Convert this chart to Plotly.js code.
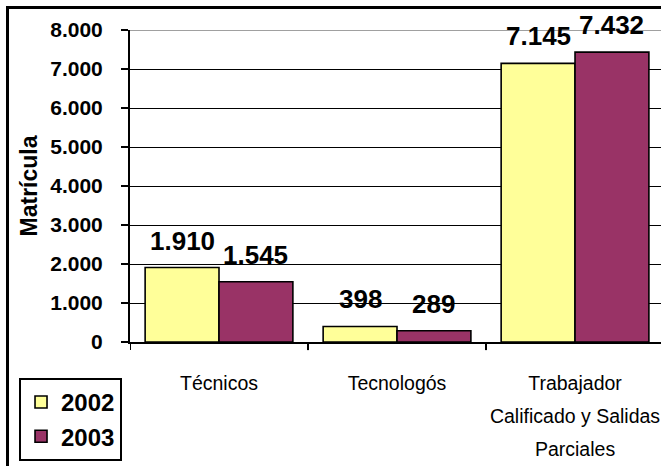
<!DOCTYPE html>
<html>
<head>
<meta charset="utf-8">
<script src="https://cdn.plot.ly/plotly-3.0.1.min.js"></script>
<style>
  html, body { margin: 0; padding: 0; background: #fff; overflow: hidden; }
  #chart { position: absolute; left: 0; top: 0; width: 661px; height: 466px; }
  #frame { position: absolute; left: 6px; top: 6px; width: 700px; height: 500px;
           border: 3px solid #000; pointer-events: none; }
</style>
</head>
<body>
<div id="chart"></div>
<div id="frame"></div>
<script>
// ---- data ----
const categories = ["Técnicos", "Tecnologós", "Trabajador<br>Calificado y Salidas<br>Parciales"];
const seriesNames = ["2002", "2003"];
const values2002 = [1910, 398, 7145];
const values2003 = [1545, 289, 7432];
const yTicks = [0, 1000, 2000, 3000, 4000, 5000, 6000, 7000, 8000];

// ---- styling ----
const colors = ["#FFFF99", "#993366"];
const bargap = 0.17;
const boldFont = "Liberation Sans, Arial, sans-serif";
const catFont = "Liberation Sans, Arial, sans-serif";

function fmt(v) {
  return String(v).replace(/\B(?=(\d{3})+(?!\d))/g, ".");
}

const xIdx = categories.map((c, i) => i);
const allSeries = [values2002, values2003];

// category labels: small glyphs, wide line spacing
const catText = categories.map(c =>
  c.split("<br>").map(line => '<span style="font-size:19.5px">' + line + '</span>').join("<br>")
);

const traces = allSeries.map((vals, s) => ({
  type: "bar",
  name: seriesNames[s],
  x: xIdx,
  y: vals,
  marker: { color: colors[s], line: { color: "#000", width: 1.6 } },
  hoverinfo: "skip"
}));

const barW = (1 - bargap) / 2;
const annotations = [];
allSeries.forEach((vals, s) => {
  vals.forEach((v, i) => {
    annotations.push({
      x: i + (s === 0 ? -barW / 2 : barW / 2),
      y: v,
      xref: "x", yref: "y",
      text: fmt(v),
      showarrow: false,
      yanchor: "bottom",
      xanchor: "center",
      yshift: 10,
      font: { family: boldFont, size: 26, color: "#000", weight: 700 }
    });
  });
});

const yMax = yTicks[yTicks.length - 1];

const layout = {
  width: 661, height: 466,
  margin: { l: 130, r: 0, t: 30, b: 124 },
  paper_bgcolor: "#fff",
  plot_bgcolor: "#fff",
  barmode: "group",
  bargap: bargap,
  bargroupgap: 0,
  showlegend: true,
  legend: {
    x: -0.209, y: -0.115, xanchor: "left", yanchor: "top",
    bordercolor: "#000", borderwidth: 2, bgcolor: "#fff",
    font: { family: boldFont, size: 24, color: "#000", weight: 700 },
    traceorder: "normal",
    itemwidth: 30
  },
  xaxis: {
    type: "linear",
    range: [-0.5, 2.483],
    tickvals: xIdx,
    ticktext: catText,
    showgrid: false,
    zeroline: false,
    showline: true, linecolor: "#000", linewidth: 2,
    ticks: "",
    tickfont: { family: catFont, size: 25.5, color: "#000" },
    ticklabelstandoff: 15,
    ticklabeloverflow: "allow"
  },
  yaxis: {
    range: [0, yMax],
    tickvals: yTicks,
    ticktext: yTicks.map(fmt),
    showgrid: true, gridcolor: "#000", gridwidth: 1,
    zeroline: false,
    showline: true, linecolor: "#000", linewidth: 2,
    ticks: "outside", ticklen: 7, tickwidth: 2, tickcolor: "#000",
    tickfont: { family: boldFont, size: 21, color: "#000", weight: 700 },
    ticklabelstandoff: 14,
    title: { text: "Matrícula", font: { family: boldFont, size: 23, color: "#000", weight: 700 }, standoff: 6 }
  },
  annotations: annotations,
  shapes: [
    { type: "line", xref: "paper", yref: "y", x0: 0, x1: 1, y0: yMax, y1: yMax,
      line: { color: "#808080", width: 1.5 } }
  ].concat([-0.5, 0.5, 1.5].map(b => ({
    type: "line", xref: "x", yref: "paper", x0: b, x1: b, y0: 0, y1: -0.026,
    line: { color: "#000", width: 2 }
  })))
};

Plotly.newPlot("chart", traces, layout, { staticPlot: true, displayModeBar: false });
</script>
</body>
</html>
